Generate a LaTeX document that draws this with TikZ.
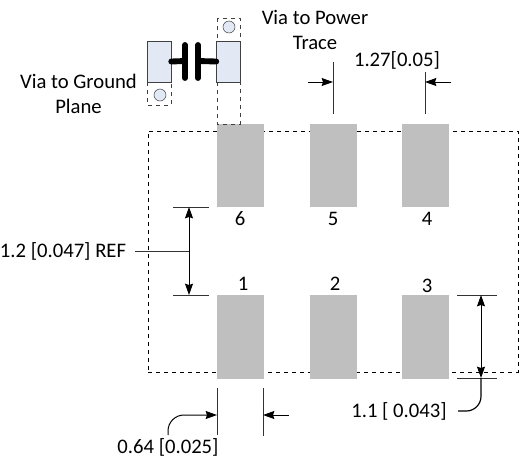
\documentclass[tikz,border=0pt]{standalone}
\usepackage{fontspec}
\setmainfont{Carlito}
\usepackage{tikz}
\usetikzlibrary{positioning,arrows.meta}
\definecolor{padgray}{RGB}{191,191,191}
\definecolor{capblue}{RGB}{226,233,245}

\begin{document}
\begin{tikzpicture}[x=0.75pt,y=-0.75pt,>={Stealth[length=8.5pt,width=6pt,inset=1pt]},font=\fontsize{15.5pt}{18.75pt}\selectfont]
  \tikzstyle{pad}=[fill=padgray,draw=none,inner sep=0pt,minimum width=35.25pt,minimum height=62.25pt]
  \tikzstyle{lowpad}=[pad,minimum height=63pt]
  \tikzstyle{outline}=[draw,dashed,inner sep=0pt,minimum width=277.5pt,minimum height=180.75pt]
  \tikzstyle{capbox}=[draw=black!75,fill=capblue,inner sep=0pt]
  \tikzstyle{capend}=[capbox,minimum width=18pt,minimum height=30.75pt]
  \tikzstyle{via}=[circle,capbox,minimum size=9pt]
  \tikzstyle{note}=[align=center,inner sep=0pt]
  \tikzstyle{cline}=[line width=4.4pt,line cap=round]
  \tikzstyle{ext}=[black!80!white,line width=0.75pt]
  \tikzstyle{dim}=[->,line width=0.75pt]

  \useasboundingbox (0,0) rectangle (526,462);

  \node[outline] (board) at (333,251.5) {};

  \node[pad] (p6) at (240.5,165.5) {};
  \node[pad] (p5) at (333.5,165.5) {};
  \node[pad] (p4) at (425.5,165.5) {};
  \node[lowpad] (p1) at (240.5,337) {};
  \node[lowpad] (p2) at (333.5,337) {};
  \node[lowpad] (p3) at (425.5,337) {};

  \node (n6) at (240,219) {6};
  \node (n5) at (333,219) {5};
  \node (n4) at (427,219) {4};
  \node (n1) at (243,284) {1};
  \node (n2) at (335,284) {2};
  \node (n3) at (427,286) {3};

  \draw[dashed,black!75] (147,82) rectangle (171,105);
  \draw[dashed,black!75] (217,18) rectangle (240,124);
  \node[capend] (capl) at (159,61.5) {};
  \node[capend] (capr) at (228.5,61.5) {};
  \node[via] (vial) at (160,95) {};
  \node[via] (viar) at (229,27) {};
  \coordinate (plA) at (185,61);
  \coordinate (plB) at (198,61);
  \draw[cline] (capl.east) -- (plA);
  \draw[cline] (plB) -- (capr.west);
  \coordinate (plA1) at (185,45);
  \coordinate (plA2) at (185,78);
  \coordinate (plB1) at (198,45);
  \coordinate (plB2) at (198,78);
  \draw[cline] (plA1) -- (plA2);
  \draw[cline] (plB1) -- (plB2);

  \node[note] (viag) at (78.5,94) {Via to Ground\\Plane};
  \node[note] (viap) at (315,29.5) {Via to Power\\Trace};
  \node[note] (d127) at (397,60) {1.27[0.05]};
  \node[note] (d12) at (63,251) {1.2 [0.047] REF};
  \node[note] (d11) at (399,411) {1.1 [ 0.043]};
  \node[note] (d064) at (168,447) {0.64 [0.025]};

  \coordinate (a1) at (333,62);
  \coordinate (a2) at (333,114);
  \coordinate (a3) at (425,72);
  \coordinate (a4) at (425,114);
  \draw[ext] (a1) -- (a2);
  \draw[ext] (a3) -- (a4);
  \coordinate (a5) at (308,82);
  \coordinate (a6) at (333,82);
  \coordinate (a7) at (451,82);
  \coordinate (a8) at (425,82);
  \draw[dim] (a5) -- (a6);
  \draw[dim] (a7) -- (a8);

  \coordinate (b1) at (173,207);
  \coordinate (b2) at (209,207);
  \coordinate (b3) at (173,295);
  \coordinate (b4) at (209,295);
  \coordinate (b5) at (189,207);
  \coordinate (b6) at (189,295);
  \coordinate (b7) at (189,251);
  \coordinate (b8) at (135,251);
  \draw[ext] (b1) -- (b2);
  \draw[ext] (b3) -- (b4);
  \draw[dim,<->] (b5) -- (b6);
  \draw[ext] (b8) -- (b7);

  \coordinate (c1) at (457,295);
  \coordinate (c2) at (497,295);
  \coordinate (c3) at (457,378);
  \coordinate (c4) at (497,378);
  \coordinate (c5) at (481,295);
  \coordinate (c6) at (481,378);
  \coordinate (c7) at (458,411);
  \draw[ext] (c1) -- (c2);
  \draw[ext] (c3) -- (c4);
  \draw[dim,<->] (c5) -- (c6);
  \draw[line width=0.9pt,rounded corners=11pt] (c6) |- (c7);

  \coordinate (e1) at (217,388);
  \coordinate (e2) at (217,435);
  \coordinate (e3) at (263,388);
  \coordinate (e4) at (263,436);
  \draw[ext] (e1) -- (e2);
  \draw[ext] (e3) -- (e4);
  \coordinate (e5) at (168,435);
  \coordinate (e6) at (217,415);
  \coordinate (e7) at (289,415);
  \coordinate (e8) at (263,415);
  \draw[dim,rounded corners=12pt] (e5) |- (e6);
  \draw[dim] (e7) -- (e8);
\end{tikzpicture}
\end{document}
